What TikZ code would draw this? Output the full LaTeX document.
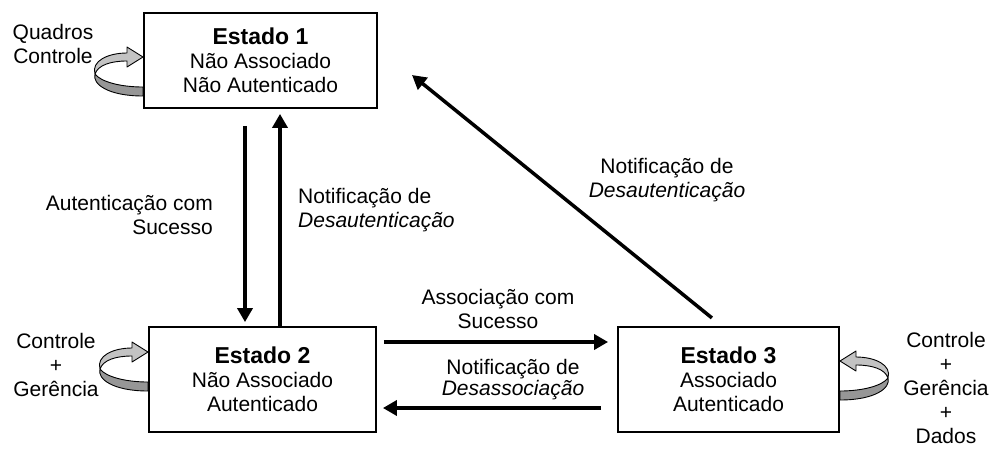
\documentclass[tikz,border=0pt]{standalone}
\usepackage{fontspec}
\setmainfont{Liberation Sans}
\usetikzlibrary{arrows.meta}
\definecolor{loopL}{RGB}{195,195,195}
\definecolor{loopD}{RGB}{150,150,150}
\newcommand\estado[1]{{\fontsize{23}{24}\selectfont\bfseries #1}}
\tikzset{
  loopleft/.pic={
    \path[loopd] (0,30) .. controls (-22,30) and (-42,25) .. (-48,17)
       .. controls (-51,27) and (-35,39) .. (0,39) -- cycle;
    \path[loopl] (-48,17) .. controls (-45,8) and (-32,4) .. (-16,4)
       -- (-16,10) -- (0,0) -- (-16,-10) -- (-16,-4)
       .. controls (-35,-4) and (-52,4) .. (-48,17) -- cycle;
  }
}
\begin{document}
\begin{tikzpicture}[x=1pt,y=-1pt,
  box/.style={draw, fill=white, line width=1.8pt, align=center, inner sep=0pt,
              font=\fontsize{21}{24}\selectfont},
  lbl/.style={align=center, inner sep=0pt, font=\fontsize{21}{24}\selectfont},
  arr/.style={line width=3.5pt, -{Triangle[length=14pt,width=15pt]}},
  loopl/.style={fill=loopL, draw=black, line width=0.9pt, line join=round},
  loopd/.style={fill=loopD, draw=black, line width=0.9pt, line join=round}]
\useasboundingbox (0,0) rectangle (996,448);

% self loops
\pic (l1) at (143,57) {loopleft};
\pic (l2) at (148,352) {loopleft};
\pic[xscale=-1] (l3) at (840,361) {loopleft};

% states
\node[box, minimum width=233pt, minimum height=95pt] (b1) at (260.5,60.5)
  {\estado{Estado 1}\\Não Associado\\Não Autenticado};
\node[box, minimum width=227pt, minimum height=105pt] (b2) at (262.5,379.5)
  {\estado{Estado 2}\\Não Associado\\Autenticado};
\node[box, minimum width=221pt, minimum height=105pt] (b3) at (728.5,379.5)
  {\estado{Estado 3}\\Associado\\Autenticado};

% transitions
\coordinate (d1) at (412,75);
\draw[arr, shorten <=17pt, shorten >=4pt] (245,0 |- b1.south) -- (245,0 |- b2.north);
\draw[arr, shorten >=5pt] (280,0 |- b2.north) -- (280,0 |- b1.south);
\draw[arr, shorten <=7pt, shorten >=9pt] (b2.east |- 0,342) -- (b3.west |- 0,342);
\draw[arr, shorten <=16pt, shorten >=6pt] (b3.west |- 0,408) -- (b2.east |- 0,408);
\draw[arr, shorten <=13pt] (722,0 |- b3.north) -- (d1);

% labels (anchor=base is the baseline of the last line)
\node[lbl, anchor=base] (t1) at (53,63) {Quadros\\Controle};
\node[lbl, anchor=base] (t2) at (56,396) {Controle\\+\\Gerência};
\node[lbl, anchor=base] (t3) at (946,443) {Controle\\+\\Gerência\\+\\Dados};
\node[lbl, align=right, anchor=base east] (t4) at (213,234) {Autenticação com\\Sucesso};
\node[lbl, align=left, anchor=base west] (t5) at (298,227) {Notificação de\\\textit{Desautenticação}};
\node[lbl, anchor=base] (t6) at (498,328) {Associação com\\Sucesso};
\node[lbl, anchor=base, font=\fontsize{21}{21}\selectfont] (t7) at (513,395) {Notificação de\\\textit{Desassociação}};
\node[lbl, anchor=base] (t8) at (667,197) {Notificação de\\\textit{Desautenticação}};
\end{tikzpicture}
\end{document}
